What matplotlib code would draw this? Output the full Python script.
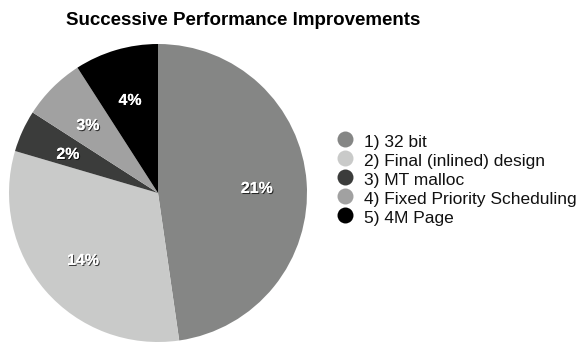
import matplotlib
matplotlib.use("Agg")
import matplotlib.pyplot as plt
import matplotlib.patheffects as pe
from matplotlib.lines import Line2D

labels = ["1) 32 bit", "2) Final (inlined) design", "3) MT malloc",
          "4) Fixed Priority Scheduling", "5) 4M Page"]
values = [21, 14, 2, 3, 4]
pct_labels = ["21%", "14%", "2%", "3%", "4%"]
colors = ["#858685", "#c9cac9", "#3b3c3b", "#a1a1a1", "#000000"]

W, H = 581, 343
fig = plt.figure(figsize=(W / 100, H / 100), dpi=100)
fig.patch.set_facecolor("white")

cx, cy, r = 158, 193, 149
ax = fig.add_axes([(cx - r) / W, (H - cy - r) / H, 2 * r / W, 2 * r / H])
wedges, texts = ax.pie(values, colors=colors, startangle=90, counterclock=False,
                       labels=pct_labels, labeldistance=0.665,
                       wedgeprops=dict(linewidth=0),
                       textprops=dict(color="white", fontsize=11.5, fontweight="bold",
                                      family="Liberation Sans"))
for t in texts:
    x, y = t.get_position()
    t.set_position((x, y - 2.5 / r))
    t.set_ha("center")
    t.set_va("center")
    t.set_path_effects([pe.withSimplePatchShadow(offset=(0.8, -0.8),
                                                 shadow_rgbFace="black", alpha=0.7),
                        pe.Normal()])
ax.set_xlim(-1, 1)
ax.set_ylim(-1, 1)
ax.set_aspect("auto")
ax.axis("off")

fig.text(243 / W, 1 - 25 / H, "Successive Performance Improvements",
         ha="center", va="baseline", fontsize=13.5, fontweight="bold",
         family="Liberation Sans")

# legend (manual layout)
pitch = 19.1
for i, (lab, c) in enumerate(zip(labels, colors)):
    my = 139 + pitch * i
    fig.add_artist(Line2D([345 / W], [1 - my / H], transform=fig.transFigure,
                          linestyle="none", marker="o", markersize=11.5,
                          markerfacecolor=c, markeredgewidth=0))
    fig.text(364 / W, 1 - (146.5 + pitch * i) / H, lab, ha="left", va="baseline",
             fontsize=12.5, family="Liberation Sans", color="#111111")

fig.savefig("out.png", dpi=100, facecolor="white")
